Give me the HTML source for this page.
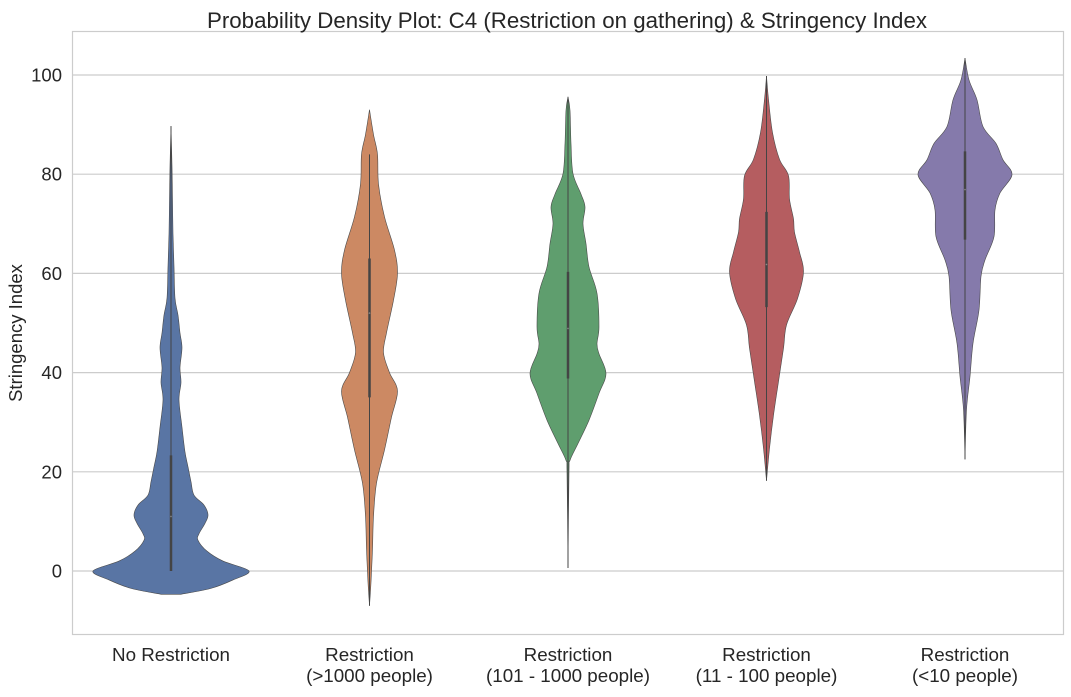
<!DOCTYPE html>
<html><head><meta charset="utf-8"><style>
body{margin:0;background:#fff;}
svg text{font-family:"Liberation Sans",Arial,sans-serif;fill:#262626;}
</style></head><body>
<svg id="chart" width="1071" height="692" xmlns="http://www.w3.org/2000/svg">
<rect x="0" y="0" width="1071" height="692" fill="#fff"/>
<g id="grid"></g>
<rect x="72.5" y="31.5" width="991" height="603" fill="none" stroke="#cccccc" stroke-width="1.2"/>
<g id="violins"></g>
<g id="yticks"></g>
<g id="xticks"></g>
<text x="567" y="28" font-size="22.3" text-anchor="middle">Probability Density Plot: C4 (Restriction on gathering) &amp; Stringency Index</text>
<text x="22" y="333" font-size="18.5" text-anchor="middle" transform="rotate(-90 22 333)">Stringency Index</text>
</svg>
<script>
const categories = [["No Restriction"],["Restriction","(>1000 people)"],["Restriction","(101 - 1000 people)"],["Restriction","(11 - 100 people)"],["Restriction","(<10 people)"]];
const yTicks = [0,20,40,60,80,100];
// density profiles: levels (stringency) and half-widths (relative density)
const levels0 = [-4.7,-3.5,-1.8,0,2,4,6.2,7.5,9.6,11.3,13.3,15.3,18,21,24,29,34.5,38,41,45,48,51.6,55,61.5,68,75,81.7,89.7];
const dens0   = [10,40,62,78,52,36,27,28,34,37,33,23,20,17,14,11,8,10,9,11,9,7,4,3,2,1.5,1,0];
const levels1 = [-7,-2.3,4.4,11,17.7,24.4,31,36.3,40,44,48,54.6,60,64.7,71.4,78,84,88,93];
const dens1   = [0,1.5,3,4,7,15,22,28,20,14,17,24,28,25,15,9,8,4,0];
const levels2 = [0.6,20,22.3,25.7,30.4,35.8,39.8,43.8,45.8,49.2,56,61.3,66,70,73.4,76,80.1,86.2,92.9,95.6];
const dens2   = [0,1,2,10,21,31,38,31,29,31,29,21,18,15,17,13,5,3,2,0];
const levels3 = [18.2,24.7,31.4,38.2,44.9,49.6,54.9,60.3,64.3,68.3,71,75,79.7,83,88.4,95.1,99.8];
const dens3   = [0,3,7,12,17,20,31,37,33,28,27,23,22,13,6,2,0];
const levels4 = [22.5,32.5,39.2,45.9,52.6,59.4,62.7,67.4,72.8,76.2,79.9,82.9,86.2,89.6,95,99,103.4];
const dens4   = [0,1.5,5,8,14,16,20,29,30,35,47,38,31,18,12,4,0];
const boxLow  = [0,35,38.8,53.2,66.8];
const boxHigh = [23.3,63,60.3,72.4,84.6];
const medians = [11,52,48.9,61.8,76.9];
const whiskLow  = [0,-7,0.6,18.2,22.5];
const whiskHigh = [89.7,84,95.6,99.8,103.4];
const colors = ["#5975a4","#cc8963","#5f9e6e","#b55d60","#857aab"];
const allLevels=[levels0,levels1,levels2,levels3,levels4];
const allDens=[dens0,dens1,dens2,dens3,dens4];

const NS="http://www.w3.org/2000/svg";
const y = v => 571 - 4.96*v;
const x = i => 171 + i*198.5;
const wScale = 1;
function mk(tag,attrs,parent){const e=document.createElementNS(NS,tag);for(const k in attrs)e.setAttribute(k,attrs[k]);parent.appendChild(e);return e;}
const grid=document.getElementById('grid'), yt=document.getElementById('yticks'), xt=document.getElementById('xticks'), vg=document.getElementById('violins');
yTicks.forEach(t=>{
  const l=mk('line',{x1:72,x2:1064,y1:y(t),y2:y(t),stroke:'#cccccc','stroke-width':1.2},grid);
  
  
  const tx=mk('text',{x:62,y:y(t)+6.5,'font-size':18.5,'text-anchor':'end'},yt);
  tx.textContent=t;
  
  
});
categories.forEach((c,i)=>{
  const tx=mk('text',{x:x(i),'font-size':18.8,'text-anchor':'middle'},xt);
  
  
  c.forEach((line,j)=>{const ts=mk('tspan',{x:x(i),y:661+j*21},tx);ts.textContent=line;});
});
function smooth(pts){
  let d='M'+pts[0][0]+','+pts[0][1];
  for(let i=0;i<pts.length-1;i++){
    const p0=pts[Math.max(0,i-1)],p1=pts[i],p2=pts[i+1],p3=pts[Math.min(pts.length-1,i+2)];
    const c1=[p1[0]+(p2[0]-p0[0])/6,p1[1]+(p2[1]-p0[1])/6],c2=[p2[0]-(p3[0]-p1[0])/6,p2[1]-(p3[1]-p1[1])/6];
    d+=' C'+c1.join(',')+' '+c2.join(',')+' '+p2.join(',');
  }
  return d;
}
categories.forEach((c,i)=>{
  const L=allLevels[i],D=allDens[i],cx=x(i);
  const right=L.map((v,k)=>[cx+D[k]*wScale,y(v)]);
  const left=L.map((v,k)=>[cx-D[k]*wScale,y(v)]).reverse();
  const d=smooth(right)+' L'+smooth(left).slice(1)+' Z';
  const p=mk('path',{d:d,fill:colors[i],stroke:'#4a4a4a','stroke-width':0.6},vg);
  
  
  const w=mk('line',{x1:cx,x2:cx,y1:y(whiskLow[i]),y2:y(whiskHigh[i]),stroke:'#444','stroke-width':1},vg);
  
  
  const b=mk('line',{x1:cx,x2:cx,y1:y(boxLow[i]),y2:y(boxHigh[i]),stroke:'#444','stroke-width':2.5},vg);
  
  
  const m=mk('circle',{cx:cx,cy:y(medians[i]),r:0.8,fill:'#888'},vg);
  
  
});
</script>
</body></html>
